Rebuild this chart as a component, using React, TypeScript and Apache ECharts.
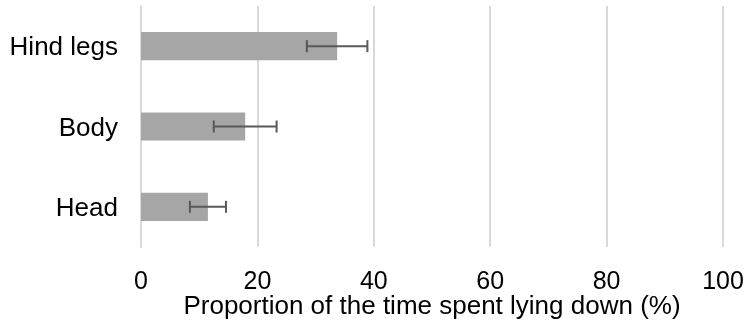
import React, { useEffect, useRef } from "react";
import * as echarts from "echarts";

const categories = ["Hind legs", "Body", "Head"];
const means = [33.7, 17.9, 11.5];
const errors = [5.2, 5.4, 3.1];
const xTicks = { min: 0, max: 100, interval: 20 };
const xTitle = "Proportion of the time spent lying down (%)";

export default function App() {
  const ref = useRef<HTMLDivElement>(null);
  useEffect(() => {
    if (!ref.current) return;
    const chart = echarts.init(ref.current, undefined, { renderer: "svg" });
    const font = "'Liberation Sans', Arial, sans-serif";
    const errData = categories.map((c, i) => [i, means[i] - errors[i], means[i] + errors[i]]);
    chart.setOption({
      animation: false,
      grid: { left: 141, right: 25, top: 6, bottom: 73, outerBoundsMode: "none", containLabel: false },
      xAxis: {
        type: "value",
        min: xTicks.min,
        max: xTicks.max,
        interval: xTicks.interval,
        axisLine: { show: false },
        axisTick: { show: false },
        splitLine: { show: true, lineStyle: { color: "#d9d9d9", width: 2 } },
        axisLabel: { color: "#000", fontSize: 25, fontFamily: font, margin: 23, lineHeight: 20 },
        name: xTitle,
        nameLocation: "middle",
        nameGap: 45,
        nameMoveOverlap: false,
        nameTextStyle: { color: "#000", fontSize: 26, fontFamily: font, verticalAlign: "top", lineHeight: 26 },
      },
      yAxis: {
        type: "category",
        data: categories,
        inverse: true,
        axisLine: { show: true, lineStyle: { color: "#d9d9d9", width: 2 } },
        axisTick: { show: false },
        axisLabel: { color: "#000", fontSize: 26, fontFamily: font, margin: 23 },
      },
      series: [
        {
          type: "bar",
          data: means,
          barWidth: "35%",
          itemStyle: { color: "#a6a6a6" },
        },
        {
          type: "custom",
          data: errData,
          z: 10,
          renderItem: (params: any, api: any) => {
            const idx = api.value(0);
            const lo = api.coord([api.value(1), idx]);
            const hi = api.coord([api.value(2), idx]);
            const h = 6;
            const style = { stroke: "#595959", lineWidth: 2 };
            return {
              type: "group",
              children: [
                { type: "line", shape: { x1: lo[0], y1: lo[1], x2: hi[0], y2: hi[1] }, style },
                { type: "line", shape: { x1: lo[0], y1: lo[1] - h, x2: lo[0], y2: lo[1] + h }, style },
                { type: "line", shape: { x1: hi[0], y1: hi[1] - h, x2: hi[0], y2: hi[1] + h }, style },
              ],
            };
          },
        },
      ],
    });
    return () => chart.dispose();
  }, []);
  return <div ref={ref} style={{ position: "fixed", left: 0, top: 0, width: 748, height: 320 }} />;
}
